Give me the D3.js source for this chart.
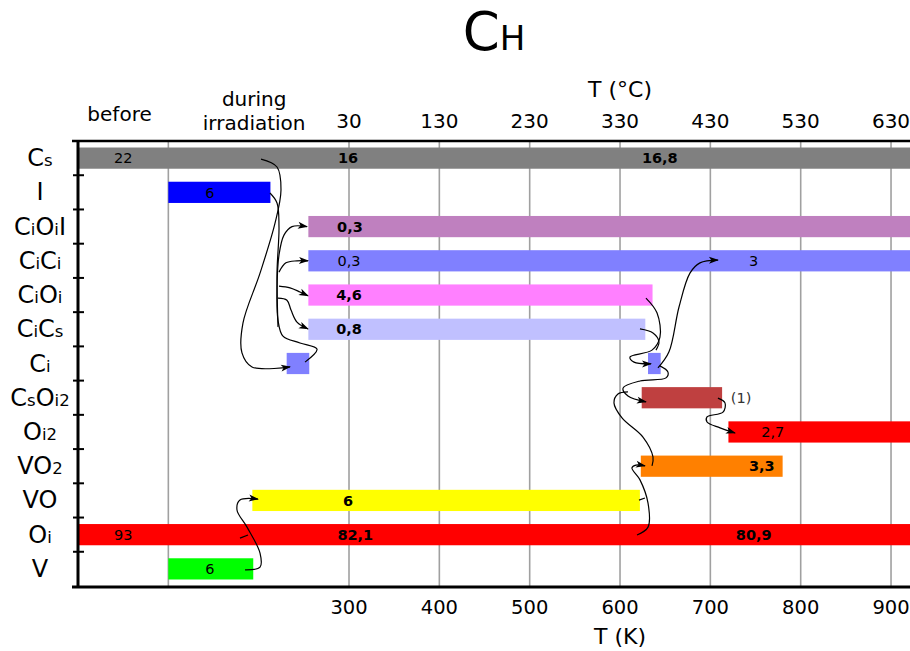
<!DOCTYPE html>
<html>
<head>
<meta charset="utf-8">
<script src="https://cdn.jsdelivr.net/npm/d3@7"></script>
<style>
  body { margin: 0; background: #fff; }
  text { font-family: "DejaVu Sans", sans-serif; fill: #000; }
</style>
</head>
<body>
<script>
// rows of the chart, top to bottom
var species = ["Cs", "I", "CiOiI", "CiCi", "CiOi", "CiCs", "Ci", "CsOi2", "Oi2", "VO2", "VO", "Oi", "V"];

// bars: row, start and end (in K, 0-100 = before, 100-200 = during irradiation)
var barRow  = ["Cs", "I", "CiOiI", "CiCi", "CiOi", "CiCs", "Ci", "Ci", "CsOi2", "Oi2", "VO2", "VO", "Oi", "V"];
var barFrom = [0, 100, 255, 255, 255, 255, 231, 631, 624, 720, 623, 193, 0, 100];
var barTo   = [921, 213, 921, 921, 636, 628, 256, 645, 713, 921, 780, 622, 921, 194];

// concentrations written on the bars
var labRow  = ["Cs", "Cs", "Cs", "I", "CiOiI", "CiCi", "CiCi", "CiOi", "CiCs", "CsOi2", "Oi2", "VO2", "VO", "Oi", "Oi", "Oi", "V"];
var labK    = [50, 299, 644, 146, 301, 300, 748, 300, 300, 734, 769, 757, 299, 50, 307, 748, 146];
var labText = ["22", "16", "16,8", "6", "0,3", "0,3", "3", "4,6", "0,8", "(1)", "2,7", "3,3", "6", "93", "82,1", "80,9", "6"];
var labBold = [0, 1, 1, 0, 1, 0, 0, 1, 1, 0, 0, 1, 1, 0, 1, 1, 0];

// axes
var kTicks  = [300, 400, 500, 600, 700, 800, 900];
var cLabels = ["30", "130", "230", "330", "430", "530", "630"];
var gridK   = [100, 300, 400, 500, 600, 700, 800, 900];

// reaction arrows: [K, row position] (row position 0 = top of first row)
var arrows = [
  {head: true,  pts: [[202.6,0.53],[220.3,0.76],[224.7,1.43],[218.1,2.40],[201.5,3.86],[182.6,5.32],[181.5,6.19],[192.6,6.60],[234.7,6.60]]},
  {head: false, pts: [[212.5,1.52],[220.3,1.81],[222.5,2.51],[220.3,3.86],[221.4,5.43]]},
  {head: true,  pts: [[251.3,6.46],[264.6,6.08],[245.7,5.90],[226.9,5.70],[221.4,5.23],[220.3,4.35],[222.5,3.33],[228.0,2.75],[236.9,2.50],[253.5,2.50]]},
  {head: true,  pts: [[222.5,3.83],[230.2,3.56],[242.4,3.50],[254.6,3.50]]},
  {head: true,  pts: [[222.5,4.24],[234.7,4.29],[245.7,4.41],[254.6,4.52]]},
  {head: true,  pts: [[221.4,4.59],[231.3,4.65],[235.8,4.94],[242.4,5.29],[254.6,5.49]]},
  {head: true,  pts: [[628.7,4.59],[640.9,5.02],[644.2,5.73],[635.4,6.11],[611.0,6.31],[615.5,6.46],[634.3,6.51]]},
  {head: false, pts: [[622.1,5.49],[636.5,5.61],[643.1,5.87],[639.8,6.11]]},
  {head: true,  pts: [[642.0,6.63],[654.2,6.16],[665.3,4.85],[677.4,3.86],[688.5,3.56],[708.4,3.48]]},
  {head: true,  pts: [[644.2,6.57],[653.1,6.75],[650.9,6.92],[622.1,7.01],[603.3,7.22],[608.8,7.45],[628.7,7.62]]},
  {head: false, pts: [[635.4,9.49],[636.5,9.23],[625.4,8.65],[602.2,8.09],[593.3,7.65],[597.7,7.39],[608.8,7.33]]},
  {head: true,  pts: [[618.8,11.51],[631.0,11.28],[631.0,10.58],[622.1,9.90],[613.2,9.55],[617.7,9.47],[627.6,9.49]]},
  {head: false, pts: [[621.0,10.49],[627.6,10.43]]},
  {head: true,  pts: [[708.4,7.51],[716.2,7.65],[714.0,7.92],[696.3,8.06],[696.3,8.21],[710.7,8.38],[727.3,8.53]]},
  {head: true,  pts: [[184.9,12.53],[201.5,12.45],[201.5,12.04],[187.1,11.28],[176.0,10.78],[179.3,10.49],[199.2,10.46]]},
  {head: false, pts: [[179.3,11.60],[188.2,11.51]]}
];

var colors = {
  Cs: "#808080", I: "#0000ff", CiOiI: "#bf80bf", CiCi: "#8080ff", CiOi: "#ff80ff",
  CiCs: "#c0c0ff", Ci: "#8080ff", CsOi2: "#bf4040", Oi2: "#ff0000", VO2: "#ff8000",
  VO: "#ffff00", Oi: "#ff0000", V: "#00ff00"
};

var width = 910, height = 651,
    plotTop = 141, plotBottom = 586, plotLeft = 78;

var svg = d3.select("body")
  .append("svg")
    .attr("width", width)
    .attr("height", height);

var x = d3.scaleLinear().domain([0, 921]).range([plotLeft, width]),
    y = d3.scaleBand().domain(species).range([plotTop, plotBottom]).paddingInner(0.38).paddingOuter(0.19),
    yr = d3.scaleLinear().domain([0, species.length]).range([plotTop, plotBottom]);

svg.append("defs").append("marker")
    .attr("id", "head")
    .attr("viewBox", "-1 -4 11 8")
    .attr("refX", 9).attr("refY", 0)
    .attr("markerWidth", 11).attr("markerHeight", 8)
    .attr("markerUnits", "userSpaceOnUse")
    .attr("orient", "auto")
  .append("path")
    .attr("d", "M0,-3.5L10,0L0,3.5L2.5,0Z")
    .attr("fill", "#000");

// title C_H
var title = svg.append("text")
    .attr("x", 494).attr("y", 50)
    .attr("text-anchor", "middle");
title.append("tspan").style("font-size", "53px").text("C");
title.append("tspan").style("font-size", "34px").text("H");

// grid
svg.selectAll(".grid")
  .data(gridK)
  .enter().append("line")
    .attr("class", "grid")
    .attr("x1", function(d) { return x(d); })
    .attr("x2", function(d) { return x(d); })
    .attr("y1", plotTop).attr("y2", plotBottom)
    .attr("stroke", "#a0a0a0")
    .attr("stroke-width", 1.6);

// bars
svg.selectAll(".bar")
  .data(barRow)
  .enter().append("rect")
    .attr("class", "bar")
    .attr("x", function(d, i) { return x(barFrom[i]); })
    .attr("width", function(d, i) { return x(barTo[i]) - x(barFrom[i]); })
    .attr("y", function(d) { return y(d); })
    .attr("height", y.bandwidth())
    .attr("fill", function(d) { return colors[d]; });

// concentrations
svg.selectAll(".lab")
  .data(labText)
  .enter().append("text")
    .attr("class", "lab")
    .attr("x", function(d, i) { return x(labK[i]); })
    .attr("y", function(d, i) { return y(labRow[i]) + y.bandwidth() / 2; })
    .attr("dy", "0.36em")
    .attr("text-anchor", "middle")
    .style("font-size", "14.5px")
    .style("font-weight", function(d, i) { return labBold[i] ? "bold" : "normal"; })
    .style("fill", function(d) { return d == "(1)" ? "#333" : "#000"; })
    .text(function(d) { return d; });

// arrows
var line = d3.line()
    .curve(d3.curveCatmullRom.alpha(0.5))
    .x(function(d) { return x(d[0]); })
    .y(function(d) { return yr(d[1]); });

svg.selectAll(".arrow")
  .data(arrows)
  .enter().append("path")
    .attr("class", "arrow")
    .attr("d", function(d) { return line(d.pts); })
    .attr("fill", "none")
    .attr("stroke", "#000")
    .attr("stroke-width", 1.2)
    .attr("marker-end", function(d) { return d.head ? "url(#head)" : null; });

// axis lines
svg.append("line")
    .attr("x1", plotLeft - 6).attr("x2", width)
    .attr("y1", plotTop).attr("y2", plotTop)
    .attr("stroke", "#000").attr("stroke-width", 2.5);
svg.append("line")
    .attr("x1", plotLeft).attr("x2", plotLeft)
    .attr("y1", plotTop - 1).attr("y2", plotBottom + 2)
    .attr("stroke", "#000").attr("stroke-width", 3);
svg.append("line")
    .attr("x1", plotLeft - 6).attr("x2", width)
    .attr("y1", plotBottom + 1).attr("y2", plotBottom + 1)
    .attr("stroke", "#000").attr("stroke-width", 3);

// row ticks on the left axis
svg.selectAll(".rtick")
  .data(d3.range(1, species.length))
  .enter().append("line")
    .attr("class", "rtick")
    .attr("x1", plotLeft - 5).attr("x2", plotLeft + 6)
    .attr("y1", function(d) { return yr(d); })
    .attr("y2", function(d) { return yr(d); })
    .attr("stroke", "#000").attr("stroke-width", 2);

// row names, lowercase letters and digits as subscripts
var rowLab = svg.selectAll(".rowlab")
  .data(species)
  .enter().append("text")
    .attr("class", "rowlab")
    .attr("x", 40)
    .attr("y", function(d) { return y(d) + y.bandwidth() / 2 + 8; })
    .attr("text-anchor", "middle");

rowLab.each(function(d) {
  var t = d3.select(this);
  d.match(/[A-Z][a-z0-9]*/g).forEach(function(p) {
    t.append("tspan").style("font-size", "24px").text(p[0]);
    if (p.length > 1) t.append("tspan").style("font-size", "16.5px").text(p.slice(1));
  });
});

// top axis: phases and °C
svg.append("text").attr("x", x(46)).attr("y", 121)
    .attr("text-anchor", "middle").style("font-size", "20px").text("before");
svg.append("text").attr("x", x(195)).attr("y", 106)
    .attr("text-anchor", "middle").style("font-size", "20px").text("during");
svg.append("text").attr("x", x(195)).attr("y", 130)
    .attr("text-anchor", "middle").style("font-size", "20px").text("irradiation");

svg.selectAll(".ctick")
  .data(kTicks)
  .enter().append("text")
    .attr("class", "ctick")
    .attr("x", function(d) { return x(d); })
    .attr("y", 128)
    .attr("text-anchor", "middle")
    .style("font-size", "20px")
    .text(function(d, i) { return cLabels[i]; });

svg.append("text").attr("x", x(600)).attr("y", 97)
    .attr("text-anchor", "middle").style("font-size", "22px").text("T (°C)");

// bottom axis: K
svg.selectAll(".ktick")
  .data(kTicks)
  .enter().append("text")
    .attr("class", "ktick")
    .attr("x", function(d) { return x(d); })
    .attr("y", 614)
    .attr("text-anchor", "middle")
    .style("font-size", "19.5px")
    .text(function(d) { return d; });

svg.append("text").attr("x", x(600)).attr("y", 644)
    .attr("text-anchor", "middle").style("font-size", "22px").text("T (K)");
</script>
</body>
</html>
